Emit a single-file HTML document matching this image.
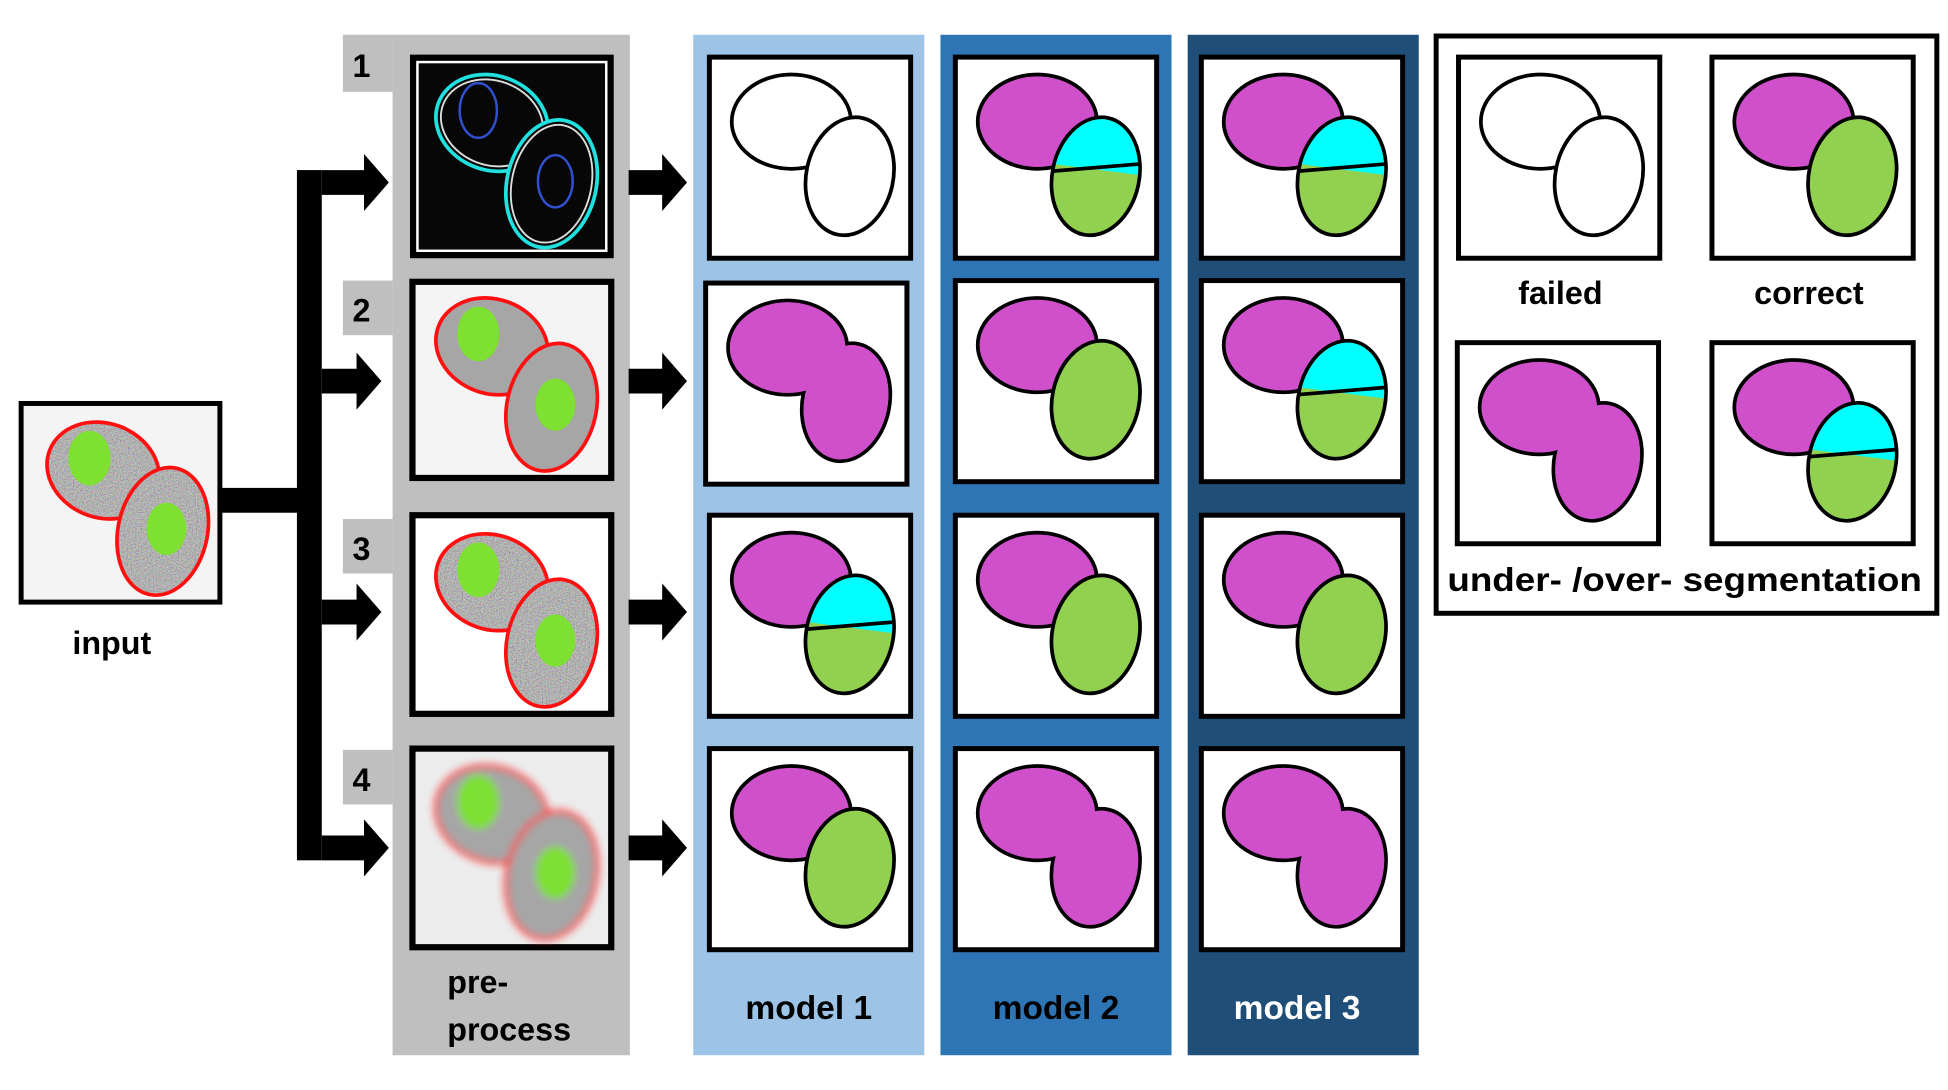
<!DOCTYPE html>
<html><head><meta charset="utf-8"><style>
html,body{margin:0;padding:0;background:#fff;}
svg{display:block;}
text{font-family:"Liberation Sans",sans-serif;font-weight:bold;}
</style></head><body>
<svg width="1948" height="1090" viewBox="0 0 1568 878" preserveAspectRatio="none" xmlns="http://www.w3.org/2000/svg">
<defs>
  <filter id="noise" x="0" y="0" width="100%" height="100%">
    <feTurbulence type="fractalNoise" baseFrequency="0.9" numOctaves="2" seed="3" result="t"/>
    <feColorMatrix in="t" type="matrix" values="1.6 0 0 0 -0.3  0 1.6 0 0 -0.3  0 0 1.6 0 -0.3  0 0 0 0 0.5" result="c"/>
    <feComposite in="c" in2="SourceGraphic" operator="in" result="n"/>
    <feMerge><feMergeNode in="SourceGraphic"/><feMergeNode in="n"/></feMerge>
  </filter>
  <filter id="blur"><feGaussianBlur stdDeviation="3"/></filter>
  <g id="failed">
    <rect x="0" y="0" width="162" height="162" fill="#fff" stroke="#000" stroke-width="4"/>
    <ellipse cx="66" cy="52" rx="48" ry="38" fill="#fff" stroke="#000" stroke-width="3"/>
    <ellipse cx="113" cy="96" rx="35" ry="48" transform="rotate(12 113 96)" fill="#fff" stroke="#000" stroke-width="3"/>
  </g>
  <g id="correct">
    <rect x="0" y="0" width="162" height="162" fill="#fff" stroke="#000" stroke-width="4"/>
    <ellipse cx="66" cy="52" rx="48" ry="38" fill="#d050cc" stroke="#000" stroke-width="3"/>
    <ellipse cx="113" cy="96" rx="35" ry="48" transform="rotate(12 113 96)" fill="#92d050" stroke="#000" stroke-width="3"/>
  </g>
  <clipPath id="topclip"><polygon points="0,0 162,0 162,86.5 0,99.7"/></clipPath>
  <clipPath id="ellclip"><ellipse cx="113" cy="96" rx="35" ry="48" transform="rotate(12 113 96)"/></clipPath>
  <g id="over">
    <rect x="0" y="0" width="162" height="162" fill="#fff" stroke="#000" stroke-width="4"/>
    <ellipse cx="66" cy="52" rx="48" ry="38" fill="#d050cc" stroke="#000" stroke-width="3"/>
    <ellipse cx="113" cy="96" rx="35" ry="48" transform="rotate(12 113 96)" fill="#92d050" stroke="#000" stroke-width="3"/>
    <ellipse cx="113" cy="96" rx="33.5" ry="46.5" transform="rotate(12 113 96)" fill="#00ffff" clip-path="url(#topclip)"/>
    <line x1="60" y1="93.3" x2="162" y2="85" stroke="#000" stroke-width="3" clip-path="url(#ellclip)"/>
  </g>
  <g id="under">
    <rect x="0" y="0" width="162" height="162" fill="#fff" stroke="#000" stroke-width="4"/>
    <ellipse cx="66" cy="52" rx="48" ry="38" fill="#d050cc" stroke="#000" stroke-width="3"/>
    <ellipse cx="113" cy="96" rx="35" ry="48" transform="rotate(12 113 96)" fill="#d050cc" stroke="#000" stroke-width="3"/>
    <ellipse cx="66" cy="52" rx="46.5" ry="36.5" fill="#d050cc"/>
    <ellipse cx="113" cy="96" rx="33.5" ry="46.5" transform="rotate(12 113 96)" fill="#d050cc"/>
  </g>
  <ellipse id="eL" cx="66" cy="54" rx="46" ry="38" transform="rotate(20 66 54)"/>
  <ellipse id="eR" cx="114" cy="103" rx="36" ry="52" transform="rotate(12 114 103)"/>
  <g id="nuc">
    <ellipse cx="55" cy="44" rx="17" ry="22" fill="#7ee030"/>
    <ellipse cx="117" cy="101" rx="16" ry="21" fill="#7ee030"/>
  </g>
  <g id="cells">
    <use href="#eL" fill="#a6a6a6" stroke="#ff1010" stroke-width="3"/>
    <use href="#eR" fill="#a6a6a6" stroke="#ff1010" stroke-width="3"/>
    <use href="#nuc"/>
  </g>
  <g id="ncells">
    <use href="#eL" fill="#a6a6a6" filter="url(#noise)"/>
    <use href="#eL" fill="none" stroke="#ff1010" stroke-width="3"/>
    <use href="#eR" fill="#a6a6a6" filter="url(#noise)"/>
    <use href="#eR" fill="none" stroke="#ff1010" stroke-width="3"/>
    <use href="#nuc"/>
  </g>
</defs>

<!-- input -->
<rect x="17" y="325" width="160" height="160" fill="#f4f4f4" stroke="#000" stroke-width="4"/>
<use href="#ncells" x="17" y="325"/>
<text x="90" y="527" font-size="26" text-anchor="middle">input</text>

<!-- connectors -->
<rect x="178" y="393" width="70" height="20" fill="#000"/>
<rect x="239" y="137" width="20" height="556" fill="#000"/>
<g fill="#000">
  <polygon points="259,137 293,137 293,124 313,147 293,170 293,157 259,157"/>
  <polygon points="259,297 287,297 287,284 307,307 287,330 287,317 259,317"/>
  <polygon points="259,483 287,483 287,470 307,493 287,516 287,503 259,503"/>
  <polygon points="259,673 293,673 293,660 313,683 293,706 293,693 259,693"/>
</g>

<!-- preprocess column -->
<rect x="316" y="28" width="191" height="822" fill="#bfbfbf"/>
<rect x="276" y="28" width="40" height="46" fill="#bfbfbf"/>
<rect x="276" y="226" width="40" height="44" fill="#bfbfbf"/>
<rect x="276" y="418" width="40" height="44" fill="#bfbfbf"/>
<rect x="276" y="604" width="40" height="44" fill="#bfbfbf"/>
<text x="291" y="62" font-size="26" text-anchor="middle">1</text>
<text x="291" y="259" font-size="26" text-anchor="middle">2</text>
<text x="291" y="451" font-size="26" text-anchor="middle">3</text>
<text x="291" y="637" font-size="26" text-anchor="middle">4</text>

<!-- pre 1 -->
<rect x="332" y="46" width="160" height="160" fill="#000" stroke="#000" stroke-width="4"/>
<rect x="336" y="50" width="152" height="152" fill="#070707" stroke="#fff" stroke-width="2"/>
<g transform="translate(330,45)" fill="none">
  <use href="#eL" stroke="#20e0e0" stroke-width="3" fill="#070707"/>
  <ellipse cx="66" cy="54" rx="42" ry="34" transform="rotate(20 66 54)" stroke="#ddd" stroke-width="1.5"/>
  <use href="#eR" stroke="#20e0e0" stroke-width="3" fill="#070707"/>
  <ellipse cx="114" cy="103" rx="32" ry="48" transform="rotate(12 114 103)" stroke="#ddd" stroke-width="1.5"/>
  <ellipse cx="55" cy="44" rx="15" ry="22" stroke="#3050d0" stroke-width="2"/>
  <ellipse cx="117" cy="101" rx="14" ry="21" stroke="#3050d0" stroke-width="2"/>
</g>
<!-- pre 2 -->
<rect x="332" y="227" width="160" height="158" fill="#f4f4f4" stroke="#000" stroke-width="5"/>
<use href="#cells" x="330" y="225"/>
<!-- pre 3 -->
<rect x="332" y="415" width="160" height="160" fill="#fff" stroke="#000" stroke-width="5"/>
<use href="#ncells" x="330" y="415"/>
<!-- pre 4 -->
<rect x="332" y="603" width="160" height="160" fill="#ececec" stroke="#000" stroke-width="5"/>
<g transform="translate(330,602)" filter="url(#blur)"><use href="#cells"/></g>
<text x="360" y="800" font-size="26">pre-</text>
<text x="360" y="838" font-size="26">process</text>

<!-- middle arrows -->
<g fill="#000">
  <polygon points="506,137 533,137 533,124 553,147 533,170 533,157 506,157"/>
  <polygon points="506,297 533,297 533,284 553,307 533,330 533,317 506,317"/>
  <polygon points="506,483 533,483 533,470 553,493 533,516 533,503 506,503"/>
  <polygon points="506,673 533,673 533,660 553,683 533,706 533,693 506,693"/>
</g>

<!-- model columns -->
<rect x="558" y="28" width="186" height="822" fill="#9dc3e6"/>
<rect x="757" y="28" width="186" height="822" fill="#2e75b6"/>
<rect x="956" y="28" width="186" height="822" fill="#1f4e79"/>

<use href="#failed" x="571" y="46"/>
<use href="#under" x="568" y="228"/>
<use href="#over" x="571" y="415"/>
<use href="#correct" x="571" y="603"/>

<use href="#over" x="769" y="46"/>
<use href="#correct" x="769" y="226"/>
<use href="#correct" x="769" y="415"/>
<use href="#under" x="769" y="603"/>

<use href="#over" x="967" y="46"/>
<use href="#over" x="967" y="226"/>
<use href="#correct" x="967" y="415"/>
<use href="#under" x="967" y="603"/>

<text x="651" y="821" font-size="27" text-anchor="middle" fill="#000">model 1</text>
<text x="850" y="821" font-size="27" text-anchor="middle" fill="#000">model 2</text>
<text x="1044" y="821" font-size="27" text-anchor="middle" fill="#fff">model 3</text>

<!-- legend -->
<rect x="1156" y="29" width="403" height="465" fill="#fff" stroke="#000" stroke-width="4"/>
<use href="#failed" x="1174" y="46"/>
<use href="#correct" x="1378" y="46"/>
<use href="#under" x="1173" y="276"/>
<use href="#over" x="1378" y="276"/>
<text x="1256" y="245" font-size="26" text-anchor="middle">failed</text>
<text x="1456" y="245" font-size="26" text-anchor="middle">correct</text>
<text x="1356" y="476" font-size="27" text-anchor="middle" textLength="382" lengthAdjust="spacingAndGlyphs">under- /over- segmentation</text>
</svg>
</body></html>
